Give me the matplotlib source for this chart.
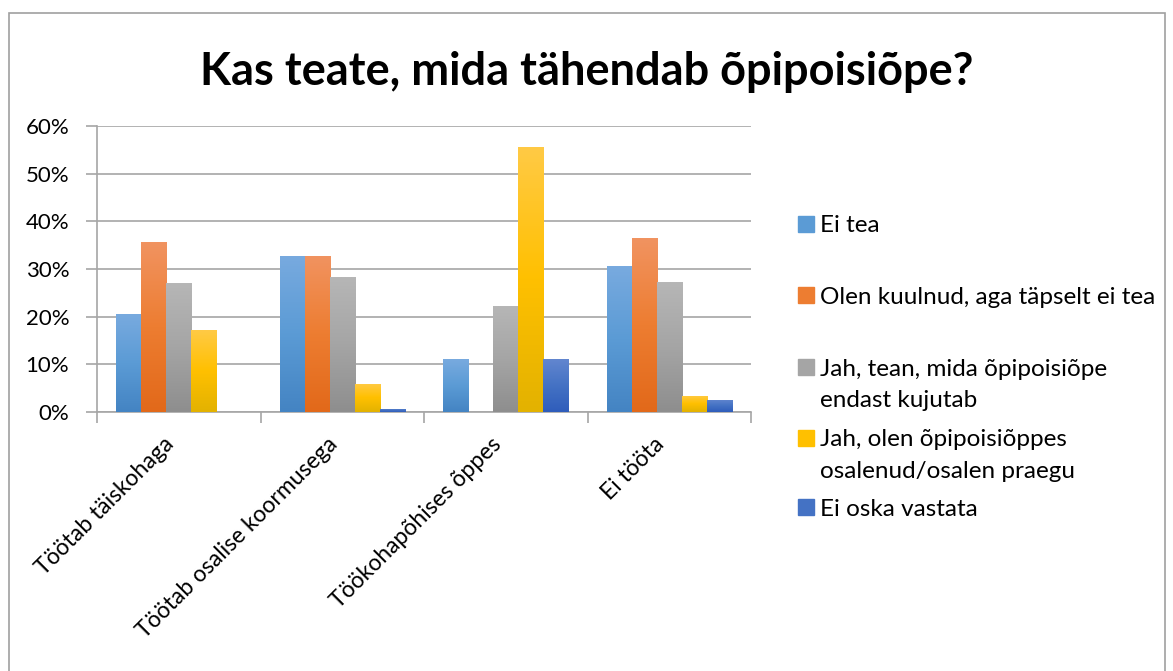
import matplotlib.pyplot as plt
import numpy as np
from matplotlib.patches import Rectangle
from matplotlib.colors import LinearSegmentedColormap
from matplotlib.transforms import ScaledTranslation
import matplotlib.ticker as mtick

categories = ["Töötab täiskohaga", "Töötab osalise koormusega",
              "Töökohapõhises õppes", "Ei tööta"]
series_names = ["Ei tea",
                "Olen kuulnud, aga täpselt ei tea",
                "Jah, tean, mida õpipoisiõpe\nendast kujutab",
                "Jah, olen õpipoisiõppes\nosalenud/osalen praegu",
                "Ei oska vastata"]
ei_tea = [20.5, 32.8, 11.1, 30.6]
olen_kuulnud = [35.6, 32.8, 0.0, 36.4]
jah_tean = [27.0, 28.3, 22.2, 27.2]
jah_olen = [17.2, 5.9, 55.6, 3.4]
ei_oska = [0.0, 0.7, 11.1, 2.6]
values = [ei_tea, olen_kuulnud, jah_tean, jah_olen, ei_oska]

# (top, middle, bottom) colours for the Excel-like gradient
grads = [("#78AADF", "#5B9BD5", "#4484C3"),
         ("#F19360", "#ED7D31", "#E2691A"),
         ("#B6B6B6", "#A5A5A5", "#8E8E8E"),
         ("#FFCA45", "#FFC000", "#E3B200"),
         ("#6286CF", "#4472C4", "#2F5DBB")]

W, H = 1173, 671
fig = plt.figure(figsize=(W / 100, H / 100), dpi=100)
plt.rcParams['font.family'] = ['Lato', 'DejaVu Sans']

def fx(x):
    return x / W

def fy(y):
    return 1 - y / H

ax = fig.add_axes([fx(97), fy(412), fx(751) - fx(97), fy(126) - fy(412)])

n = len(values)
width = 0.153
x = np.arange(len(categories))
grad = np.linspace(0, 1, 100).reshape(-1, 1)
for i, vals in enumerate(values):
    offs = (i - (n - 1) / 2) * width
    bars = ax.bar(x + offs, vals, width, color=grads[i][1], zorder=2, linewidth=0)
    cmap = LinearSegmentedColormap.from_list("g%d" % i, [grads[i][2], grads[i][1], grads[i][0]])
    for b in bars:
        if b.get_height() <= 0:
            continue
        x0 = b.get_x()
        im = ax.imshow(grad, extent=[x0, x0 + b.get_width(), 0, b.get_height()],
                       origin='lower', aspect='auto', cmap=cmap, zorder=3)
        im.set_clip_path(b)

ax.set_xlim(-0.5, len(categories) - 0.5)
ax.set_ylim(0, 60)
ax.yaxis.set_major_locator(mtick.MultipleLocator(10))
ax.yaxis.set_major_formatter(mtick.PercentFormatter(decimals=0))
ax.grid(axis='y', color='#A6A6A6', linewidth=1.2, zorder=0)
ax.set_axisbelow(True)

for s in ['top', 'right']:
    ax.spines[s].set_visible(False)
for s in ['left', 'bottom']:
    ax.spines[s].set_color('#A6A6A6')
    ax.spines[s].set_linewidth(1.2)

ax.set_xticks(np.arange(len(categories) + 1) - 0.5, minor=False)
ax.set_xticklabels([])
ax.set_xticks(x, minor=True)
ax.set_xticklabels(categories, minor=True, rotation=45, ha='right', va='center',
                   rotation_mode='anchor', fontsize=16.5)
ax.tick_params(axis='x', which='major', length=8, color='#A6A6A6', width=1.2)
ax.tick_params(axis='x', which='minor', length=0, pad=21)
ax.tick_params(axis='y', length=8, color='#A6A6A6', width=1.2, labelsize=16, pad=12)
shift = ScaledTranslation(-8 / 100, 0, fig.dpi_scale_trans)
for lab in ax.get_xticklabels(minor=True):
    lab.set_transform(lab.get_transform() + shift)

fig.text(0.5, fy(72), "Kas teate, mida tähendab õpipoisiõpe?", ha='center', va='center',
         fontsize=32.5, fontweight='bold')

# legend, drawn by hand to get Excel's uneven spacing
leg_y = [224, 295, 367, 438, 507]
line_h = 31
for i, name in enumerate(series_names):
    fig.add_artist(Rectangle((fx(798), fy(leg_y[i] + 8)), fx(16), 16 / H,
                             transform=fig.transFigure, color=grads[i][1]))
    for k, line in enumerate(name.split("\n")):
        fig.text(fx(820), fy(leg_y[i] + k * line_h), line, ha='left',
                 va='center_baseline', fontsize=17.5)

fig.add_artist(Rectangle((fx(8.5), fy(700)), fx(1165) - fx(8.5), fy(13) - fy(700),
                         transform=fig.transFigure, fill=False, edgecolor='#A0A0A0',
                         linewidth=1.2))

plt.savefig("out.png", dpi=100)
